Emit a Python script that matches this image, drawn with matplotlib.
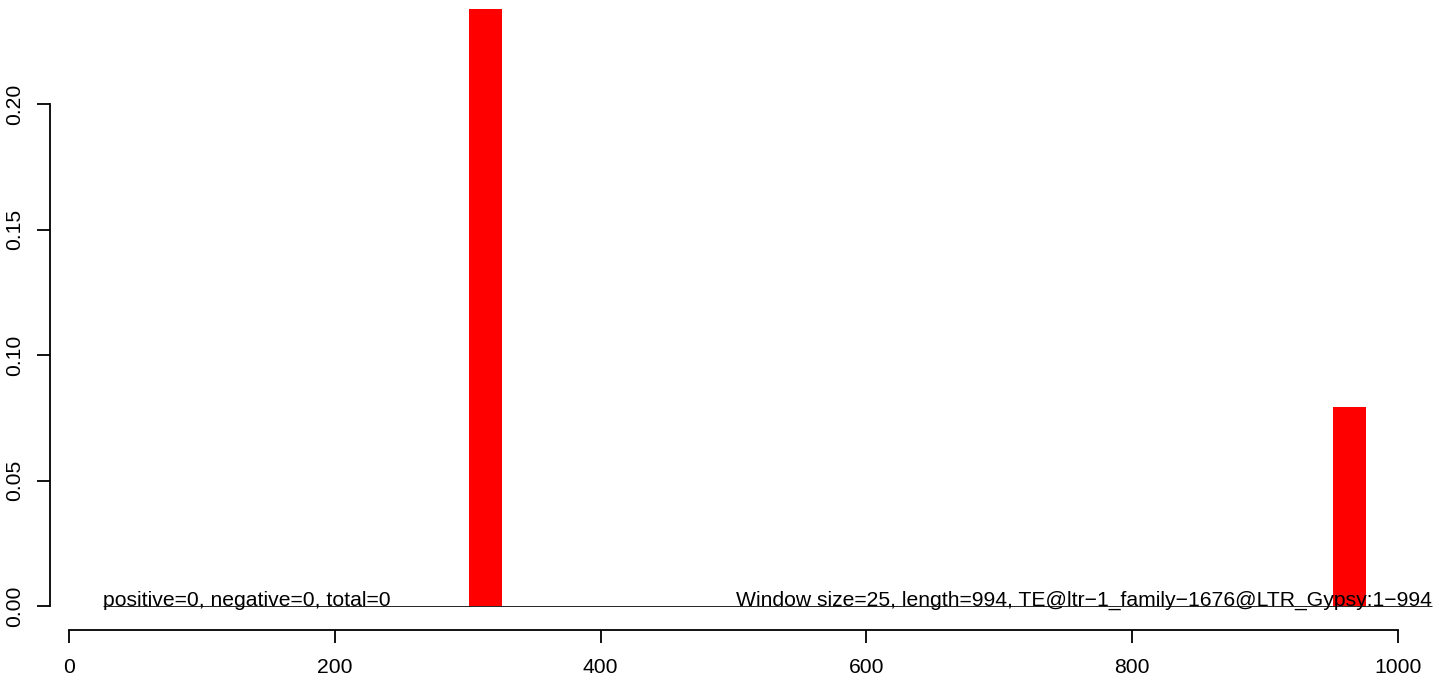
import matplotlib
matplotlib.use('Agg')
import matplotlib.pyplot as plt

# window starts and fraction values (window size 25)
win_start = [301, 951]
win_value = [0.238, 0.0793]
win_size = 25
seq_len = 994

left_note = 'positive=0, negative=0, total=0'
right_note = 'Window size=25, length=994, TE@ltr\u22121_family\u22121676@LTR_Gypsy:1\u2212994'

x_ticks = [0, 200, 400, 600, 800, 1000]
y_ticks = [0.00, 0.05, 0.10, 0.15, 0.20]

plt.rcParams['font.family'] = ['Liberation Sans', 'DejaVu Sans']

W, H = 1450, 681
fig = plt.figure(figsize=(14.5, 6.81), dpi=100)
# plot region in pixels
px_l, px_r, px_t, px_b = 50, 1442, 5, 630
ax = fig.add_axes([px_l / W, 1 - px_b / H, (px_r - px_l) / W, (px_b - px_t) / H])

# pixel -> data mapping
sx = (1397.7 - 69.3) / 1000
sy = (606 - 104) / 0.2
ax.set_xlim((px_l - 69.3) / sx, (px_r - 69.3) / sx)
ax.set_ylim((606 - px_b) / sy, (606 - px_t) / sy)

ax.bar(win_start, win_value, width=win_size, align='edge', color='red', linewidth=0)
ax.hlines(0, 25.5, 1025.5, color='black', linewidth=0.6)

ax.text(25.5, 0, left_note, ha='left', va='baseline', fontsize=15.2)
ax.text(1025.5, 0, right_note, ha='right', va='baseline', fontsize=15.2)

for s in ['top', 'right']:
    ax.spines[s].set_visible(False)
ax.spines['left'].set_bounds(0, 0.2)
ax.spines['bottom'].set_bounds(0, 1000)
for s in ['left', 'bottom']:
    ax.spines[s].set_linewidth(1.3)

ax.set_xticks(x_ticks)
ax.set_xticklabels([str(v) for v in x_ticks])
ax.set_yticks(y_ticks)
ax.set_yticklabels(['%.2f' % v for v in y_ticks], rotation=90, va='center')
ax.tick_params(axis='both', length=9.4, width=1.3, labelsize=15.2)
ax.tick_params(axis='x', pad=11)
ax.tick_params(axis='y', pad=9)

fig.savefig('out.png', dpi=100)
